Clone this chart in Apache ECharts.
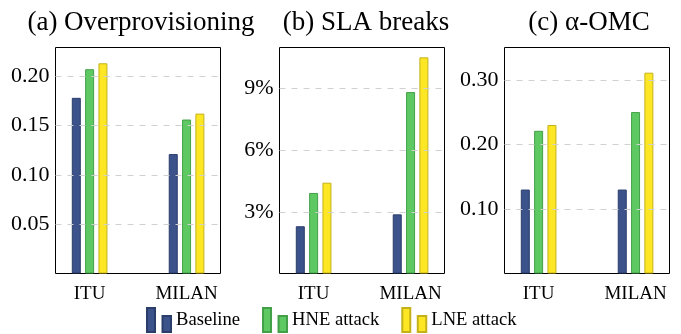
<!DOCTYPE html>
<html>
<head>
<meta charset="utf-8">
<script src="https://cdn.jsdelivr.net/npm/echarts@6/dist/echarts.min.js"></script>
<style>html,body{margin:0;padding:0;background:#fff}#c{width:681px;height:334px}</style>
</head>
<body>
<div id="c"></div>
<script>
const categories = ['ITU', 'MILAN'];
const seriesNames = ['Baseline', 'HNE attack', 'LNE attack'];
const panelTitles = ['(a) Overprovisioning', '(b) SLA breaks', '(c) \u03B1-OMC'];
// panel (a) Overprovisioning
const overBaseline = [0.178, 0.121];
const overHNE = [0.207, 0.156];
const overLNE = [0.213, 0.162];
// panel (b) SLA breaks (%)
const slaBaseline = [2.30, 2.88];
const slaHNE = [3.92, 8.83];
const slaLNE = [4.42, 10.52];
// panel (c) alpha-OMC
const omcBaseline = [0.130, 0.130];
const omcHNE = [0.221, 0.250];
const omcLNE = [0.230, 0.311];
// y tick labels
const yTicksA = [0.05, 0.10, 0.15, 0.20];
const yTicksB = [3, 6, 9];
const yTicksC = [0.10, 0.20, 0.30];

const panels = [
  [overBaseline, overHNE, overLNE],
  [slaBaseline, slaHNE, slaLNE],
  [omcBaseline, omcHNE, omcLNE]
];
const fills = ['#3b528b', '#5ec962', '#fde725'];
const borders = ['#2b3d6a', '#43a048', '#c4b11a'];
const FONT = '"Liberation Serif", "Times New Roman", serif';

const gridLefts = [55.5, 279.5, 504.5];
const titleCenters = [136, 361, 584];
const grids = gridLefts.map(l => ({ left: l, top: 47.5, width: 165, height: 226, show: true, borderColor: '#000', borderWidth: 1, backgroundColor: 'transparent' }));

const xAxes = gridLefts.map((l, i) => ({
  type: 'value', gridIndex: i, min: -0.352, max: 1.35,
  axisLine: { show: false }, axisTick: { show: false }, splitLine: { show: false },
  axisLabel: { customValues: [0, 1], formatter: v => categories[Math.round(v)], color: '#000', fontFamily: FONT, fontSize: 19, margin: 11 }
}));

const yCfg = [
  { max: 0.229, interval: 0.05, ticks: yTicksA, fmt: v => v.toFixed(2) },
  { max: 11, interval: 3, ticks: yTicksB, fmt: v => v + '%' },
  { max: 0.35, interval: 0.1, ticks: yTicksC, fmt: v => v.toFixed(2) }
];
const yAxes = yCfg.map((c, i) => ({
  type: 'value', gridIndex: i, min: 0, max: c.max, interval: c.interval, z: 3,
  axisLine: { show: false }, axisTick: { show: false },
  splitLine: { show: true, showMinLine: false, showMaxLine: false, lineStyle: { color: '#d0d0d0', type: [6, 6], width: 1 } },
  axisLabel: { customValues: c.ticks, formatter: c.fmt, color: '#000', fontFamily: FONT, fontSize: 22, margin: 6 }
}));

const series = [];
panels.forEach((p, pi) => {
  p.forEach((vals, si) => {
    series.push({
      type: 'bar', name: seriesNames[si], xAxisIndex: pi, yAxisIndex: pi,
      data: vals.map((v, ci) => [ci, v]),
      barWidth: 9, barGap: '48%',
      itemStyle: { color: fills[si], borderColor: borders[si], borderWidth: 1 }
    });
  });
});

const titles = panelTitles.map((t, i) => ({
  text: t, left: titleCenters[i], top: 4, textAlign: 'center',
  textStyle: { fontFamily: FONT, fontSize: 27, fontWeight: 'normal', color: '#000' }
}));

const icon = 'path://M0,0 H8 V24 H0 Z M15.5,8 H24 V24 H15.5 Z';
const chart = echarts.init(document.getElementById('c'), null, { renderer: 'canvas' });
chart.setOption({
  animation: false,
  backgroundColor: '#fff',
  title: titles,
  grid: grids,
  xAxis: xAxes,
  yAxis: yAxes,
  legend: {
    data: seriesNames.map(n => ({ name: n, icon: icon })),
    left: 146, top: 307, padding: 0, itemWidth: 24, itemHeight: 24, itemGap: 22,
    textStyle: { fontFamily: FONT, fontSize: 18.6, color: '#000', padding: [15, 0, 0, 0] }
  },
  series: series
});
</script>
</body>
</html>
